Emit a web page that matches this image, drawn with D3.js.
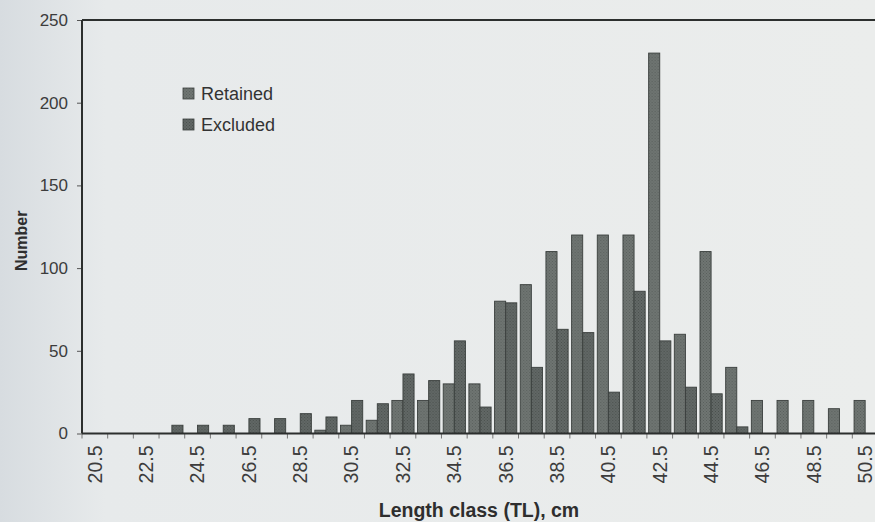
<!DOCTYPE html>
<html>
<head>
<meta charset="utf-8">
<script src="https://cdn.jsdelivr.net/npm/d3@7/dist/d3.min.js"></script>
<style>
  html, body { margin: 0; padding: 0; background: #e9ebea; }
  svg { display: block; font-family: "Liberation Sans", Arial, sans-serif; }
</style>
</head>
<body>
<svg id="chart" width="875" height="522"></svg>
<script>
// Length classes (TL, cm) on the category axis
const lengthClasses = ["20.5","21.5","22.5","23.5","24.5","25.5","26.5","27.5","28.5","29.5",
  "30.5","31.5","32.5","33.5","34.5","35.5","36.5","37.5","38.5","39.5",
  "40.5","41.5","42.5","43.5","44.5","45.5","46.5","47.5","48.5","49.5","50.5"];

// Number of fish per length class
const retained = [0,0,0,0,0,0,0,0,0,2,5,8,20,20,30,30,80,90,110,120,120,120,230,60,110,40,20,20,20,15,20];
const excluded = [0,0,0,5,5,5,9,9,12,10,20,18,36,32,56,16,79,40,63,61,25,86,56,28,24,4,0,0,0,0,0];

const seriesNames = ["Retained", "Excluded"];
const yTicks = [0, 50, 100, 150, 200, 250];
const xTickLabels = lengthClasses.filter((d, i) => i % 2 === 0);

const svg = d3.select("#chart");
const W = 875, H = 522;
const plot = { left: 82, right: 878, top: 20, bottom: 433.5 };

// Soft page tone, slightly cooler toward the left edge
const defs = svg.append("defs");
const bg = defs.append("linearGradient").attr("id", "bg").attr("x1", 0).attr("x2", 1).attr("y1", 0).attr("y2", 0);
bg.append("stop").attr("offset", "0%").attr("stop-color", "#d7dce0");
bg.append("stop").attr("offset", "12%").attr("stop-color", "#e7eaeb");
bg.append("stop").attr("offset", "100%").attr("stop-color", "#ebedec");
svg.append("rect").attr("width", W).attr("height", H).attr("fill", "url(#bg)");

// Stippled fills for the two series
function stipple(id, base, dot) {
  const p = defs.append("pattern").attr("id", id).attr("width", 3).attr("height", 3)
    .attr("patternUnits", "userSpaceOnUse");
  p.append("rect").attr("width", 3).attr("height", 3).attr("fill", base);
  p.append("rect").attr("x", 0).attr("y", 0).attr("width", 1).attr("height", 1).attr("fill", dot);
  p.append("rect").attr("x", 1.5).attr("y", 1.5).attr("width", 1).attr("height", 1).attr("fill", dot);
}
stipple("fillRetained", "#6f7572", "#5a605d");
stipple("fillExcluded", "#626866", "#4a504d");
const fills = { Retained: "url(#fillRetained)", Excluded: "url(#fillExcluded)" };

const x0 = d3.scaleBand().domain(lengthClasses).range([plot.left, plot.right])
  .paddingInner(0.135).paddingOuter(0.0675);
const x1 = d3.scaleBand().domain(seriesNames).range([0, x0.bandwidth()]);
const y = d3.scaleLinear().domain([0, 250]).range([plot.bottom, plot.top]);

const rows = lengthClasses.map((c, i) => ({ cls: c, Retained: retained[i], Excluded: excluded[i] }));

// Bars
const groups = svg.append("g").selectAll("g").data(rows).join("g")
  .attr("transform", d => `translate(${x0(d.cls)},0)`);
groups.selectAll("rect")
  .data(d => seriesNames.map(s => ({ s, v: d[s] })).filter(e => e.v > 0))
  .join("rect")
  .attr("x", e => x1(e.s))
  .attr("y", e => y(e.v))
  .attr("width", x1.bandwidth())
  .attr("height", e => y(0) - y(e.v))
  .attr("fill", e => fills[e.s])
  .attr("stroke", "#3a3f3d")
  .attr("stroke-width", 0.9);

// Y axis
const yAxis = svg.append("g").attr("transform", `translate(${plot.left},0)`)
  .call(d3.axisLeft(y).tickValues(yTicks).tickSize(5).tickPadding(9));
yAxis.select(".domain").remove();
yAxis.selectAll(".tick line").attr("stroke", "#555");
yAxis.selectAll(".tick text").attr("font-size", 17).attr("fill", "#3c3c3c")
  .attr("font-family", "'Liberation Sans', Arial, sans-serif");

// X axis: ticks between classes, labels on every other class
const xAxis = svg.append("g").attr("transform", `translate(0,${plot.bottom})`);
const step = x0.step();
const boundaries = d3.range(lengthClasses.length + 1).map(i => plot.left + i * step);
xAxis.selectAll("line.tk").data(boundaries).join("line").attr("class", "tk")
  .attr("x1", d => d).attr("x2", d => d).attr("y1", 0).attr("y2", 5)
  .attr("stroke", "#777").attr("stroke-width", 1);
xAxis.selectAll("text").data(xTickLabels).join("text")
  .attr("transform", d => `translate(${x0(d) + x0.bandwidth() / 2},12) rotate(-90)`)
  .attr("text-anchor", "end")
  .attr("dy", "0.35em")
  .attr("font-size", 19.5)
  .attr("fill", "#3c3c3c")
  .text(d => d);

// Plot frame
const frame = svg.append("g").attr("fill", "none").attr("stroke", "#2c2f2e").attr("stroke-width", 2);
frame.append("line").attr("x1", plot.left).attr("x2", W).attr("y1", plot.top).attr("y2", plot.top);
frame.append("line").attr("x1", plot.left).attr("x2", plot.left).attr("y1", plot.top).attr("y2", plot.bottom);
frame.append("line").attr("x1", plot.left).attr("x2", W).attr("y1", plot.bottom).attr("y2", plot.bottom);

// Axis titles
svg.append("text")
  .attr("transform", `translate(21,${(plot.top + plot.bottom) / 2 + 14}) rotate(-90)`)
  .attr("text-anchor", "middle").attr("dy", "0.35em")
  .attr("font-size", 16).attr("font-weight", "bold").attr("fill", "#2e2e2e")
  .text("Number");
svg.append("text")
  .attr("x", 479).attr("y", 517)
  .attr("text-anchor", "middle")
  .attr("font-size", 19.5).attr("font-weight", "bold").attr("fill", "#2e2e2e")
  .text("Length class (TL), cm");

// Legend
const legend = svg.append("g").attr("transform", "translate(183,88)");
seriesNames.forEach((s, i) => {
  const g = legend.append("g").attr("transform", `translate(0,${i * 31})`);
  g.append("rect").attr("x", 0).attr("y", 0).attr("width", 11).attr("height", 11)
    .attr("fill", fills[s]).attr("stroke", "#3a3f3d").attr("stroke-width", 0.8);
  g.append("text").attr("x", 18).attr("y", 6).attr("dy", "0.35em")
    .attr("font-size", 18).attr("fill", "#333").text(s);
});
</script>
</body>
</html>
